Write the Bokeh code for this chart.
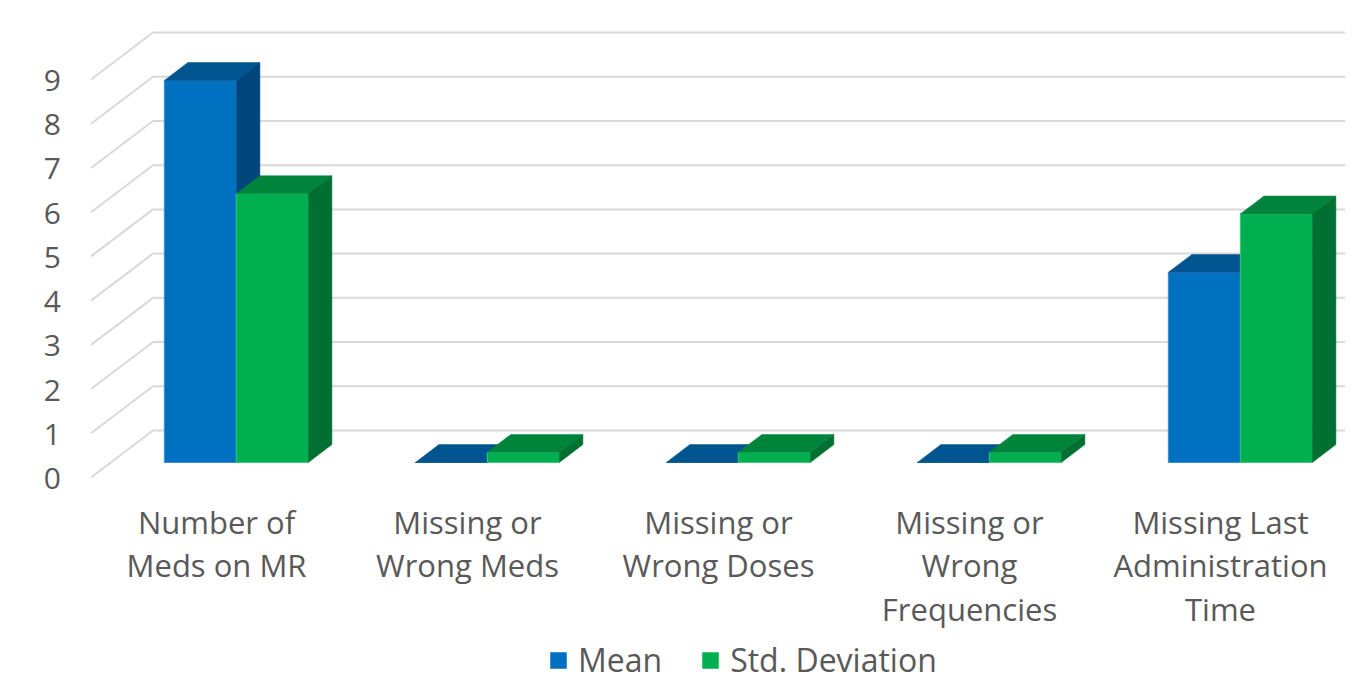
from bokeh.plotting import figure
from bokeh.models import Range1d, Legend, LegendItem
from bokeh.embed import file_html
from bokeh.resources import INLINE
from bokeh.core.properties import value

# ---------------- data ----------------
categories = [
    "Number of\nMeds on MR",
    "Missing or\nWrong Meds",
    "Missing or\nWrong Doses",
    "Missing or\nWrong\nFrequencies",
    "Missing Last\nAdministration\nTime",
]
mean_vals = [8.64, 0.0, 0.0, 0.0, 4.30]
std_vals = [6.08, 0.23, 0.23, 0.23, 5.62]
y_ticks = [0, 1, 2, 3, 4, 5, 6, 7, 8, 9]
series_names = ["Mean", "Std. Deviation"]

# ---------------- layout / style ----------------
W, H = 1345, 682
CAT_PX = 251.0          # pixels per category
UNIT_PX = 44.22         # pixels per value unit
X0_PX = 216.0           # frame x of category 0 centre (front plane)
Y0_PX = 477.0           # frame y of value 0 (front plane)
DX = 62.0 / CAT_PX      # depth vector, data units
DY = 47.0 / UNIT_PX
F1, F2 = 0.32, 0.70     # bar depth extent
BAR_W = 72.0 / CAT_PX
TEXT = "#595959"
GRID = "#D9D9D9"
FONT = "Open Sans"

blue = dict(front="#0070C0", top="#00548F", side="#00467C", edge="#3D8FD6")
green = dict(front="#00B050", top="#00843C", side="#007032", edge="#3CC878")

p = figure(width=W, height=H, output_backend="svg", toolbar_location=None,
           x_range=Range1d(-X0_PX / CAT_PX, (W - X0_PX) / CAT_PX),
           y_range=Range1d(-(H - Y0_PX) / UNIT_PX, Y0_PX / UNIT_PX),
           min_border=0, outline_line_color=None)
p.axis.visible = False
p.grid.visible = False
p.background_fill_color = "white"
p.border_fill_color = "white"

# ---------------- gridlines (left wall + back wall) ----------------
n = len(categories)
wall_x = -0.5
right_x = n - 0.5 + DX
gx, gy = [], []
for t in y_ticks:
    gx.append([wall_x, wall_x + DX, right_x])
    gy.append([t, t + DY, t + DY])
p.multi_line(gx, gy, line_color=GRID, line_width=2)

# ---------------- 3D bars ----------------
def faces(vals, s):
    fr_x, fr_y, tp_x, tp_y, sd_x, sd_y = [], [], [], [], [], []
    ddx, ddy = (F2 - F1) * DX, (F2 - F1) * DY
    for i, v in enumerate(vals):
        c = i + F1 * DX
        xl = c - BAR_W if s == 0 else c
        xr = xl + BAR_W
        y0 = F1 * DY
        y1 = y0 + v
        fr_x.append([xl, xr, xr, xl]); fr_y.append([y0, y0, y1, y1])
        tp_x.append([xl, xr, xr + ddx, xl + ddx]); tp_y.append([y1, y1, y1 + ddy, y1 + ddy])
        sd_x.append([xr, xr + ddx, xr + ddx, xr]); sd_y.append([y0, y0 + ddy, y1 + ddy, y1])
    return fr_x, fr_y, tp_x, tp_y, sd_x, sd_y

front_renderers = []
for s, (vals, col) in enumerate([(mean_vals, blue), (std_vals, green)]):
    fx, fy, tx, ty, sx, sy = faces(vals, s)
    r = p.patches(fx, fy, fill_color=col["front"], line_color=col["edge"], line_width=1)
    p.patches(tx, ty, fill_color=col["top"], line_color=col["top"], line_width=0.5)
    p.patches(sx, sy, fill_color=col["side"], line_color=col["side"], line_width=0.5)
    front_renderers.append(r)

# ---------------- value labels ----------------
p.text(x=[wall_x] * len(y_ticks), y=y_ticks, text=[str(t) for t in y_ticks],
       x_offset=-30, y_offset=1, text_align="right", text_baseline="middle",
       text_font=value(FONT), text_font_size="30px", text_color=TEXT)

# ---------------- category labels ----------------
lines = [c.split("\n") for c in categories]
max_lines = max(len(l) for l in lines)
for k in range(max_lines):
    xs = [i for i, l in enumerate(lines) if len(l) > k]
    ts = [l[k] for l in lines if len(l) > k]
    p.text(x=xs, y=[0] * len(xs), text=ts, y_offset=44 + 43.5 * k,
           text_align="center", text_baseline="alphabetic",
           text_font=value(FONT), text_font_size="31px", text_color=TEXT)

# ---------------- legend ----------------
legend = Legend(items=[LegendItem(label=series_names[0], renderers=[front_renderers[0]]),
                       LegendItem(label=series_names[1], renderers=[front_renderers[1]])],
                location=(548, 1), orientation="horizontal",
                glyph_width=20, glyph_height=20, label_standoff=10, spacing=38,
                padding=0, margin=0, border_line_alpha=0, background_fill_alpha=0,
                label_text_font=FONT, label_text_font_size="32px", label_text_color=TEXT)
p.add_layout(legend)

open("out.html", "w").write(file_html(p, INLINE))
